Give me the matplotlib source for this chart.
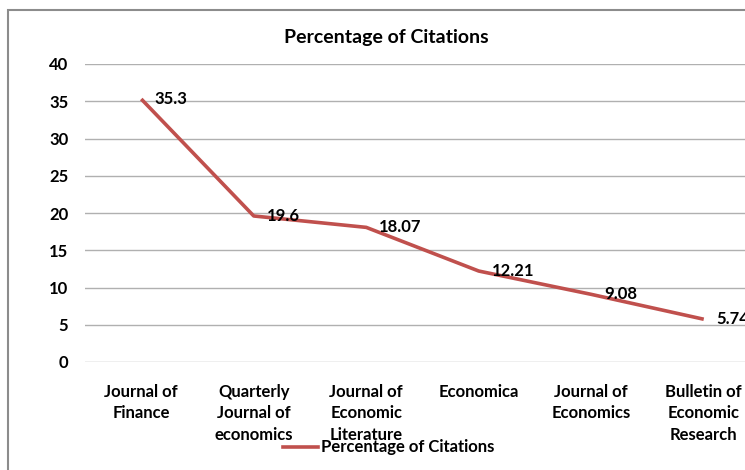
import matplotlib
matplotlib.use("Agg")
import matplotlib.pyplot as plt
from matplotlib.patches import Rectangle
from matplotlib.lines import Line2D

categories = ["Journal of\nFinance", "Quarterly\nJournal of\neconomics",
              "Journal of\nEconomic\nLiterature", "Economica",
              "Journal of\nEconomics", "Bulletin of\nEconomic\nResearch"]
values = [35.3, 19.6, 18.07, 12.21, 9.08, 5.74]
value_labels = ["35.3", "19.6", "18.07", "12.21", "9.08", "5.74"]
series_name = "Percentage of Citations"
yticks = [0, 5, 10, 15, 20, 25, 30, 35, 40]

plt.rcParams['font.family'] = ['Lato', 'DejaVu Sans']

W, H = 745, 470
fig = plt.figure(figsize=(W / 100, H / 100), dpi=100)

# chart border (extends past the image right/bottom)
fig.patches.append(Rectangle((8 / W, -0.1), 1.2, (H - 10) / H + 0.1,
                             transform=fig.transFigure, fill=False,
                             edgecolor="#8c8c8c", linewidth=1.5))

left, right = 85, 760
top, bottom = 64, 362
ax = fig.add_axes([left / W, 1 - bottom / H, (right - left) / W, (bottom - top) / H])
xs = list(range(len(categories)))
ax.plot(xs, values, color="#C0504D", linewidth=2.6, solid_capstyle="butt")
ax.set_xlim(-0.5, len(categories) - 0.5)
ax.set_ylim(0, 40)
ax.set_yticks(yticks)
ax.set_yticklabels([str(t) for t in yticks], fontsize=12, fontweight="bold")
ax.yaxis.grid(True, color="#b0b0b0", linewidth=1)
ax.set_axisbelow(True)
ax.tick_params(axis="y", length=0, pad=12)
ax.set_xticks(xs)
ax.set_xticklabels(categories, fontsize=12, fontweight="bold", linespacing=1.4, va="top")
ax.tick_params(axis="x", length=0, pad=16)
for s in ax.spines.values():
    s.set_visible(False)

for x, v, lab in zip(xs, values, value_labels):
    ax.annotate(lab, (x, v), xytext=(13, 0), textcoords="offset pixels",
                ha="left", va="center", fontsize=12, fontweight="bold")

fig.text(386 / W, 1 - 37 / H, series_name, ha="center", va="center",
         fontsize=14, fontweight="bold")

fig.lines.append(Line2D([283 / W, 318 / W], [1 - 447 / H, 1 - 447 / H],
                        transform=fig.transFigure, color="#C0504D", linewidth=2.6))
fig.text(321 / W, 1 - 447 / H, series_name, ha="left", va="center",
         fontsize=12, fontweight="bold")

fig.savefig("out.png", dpi=100)
